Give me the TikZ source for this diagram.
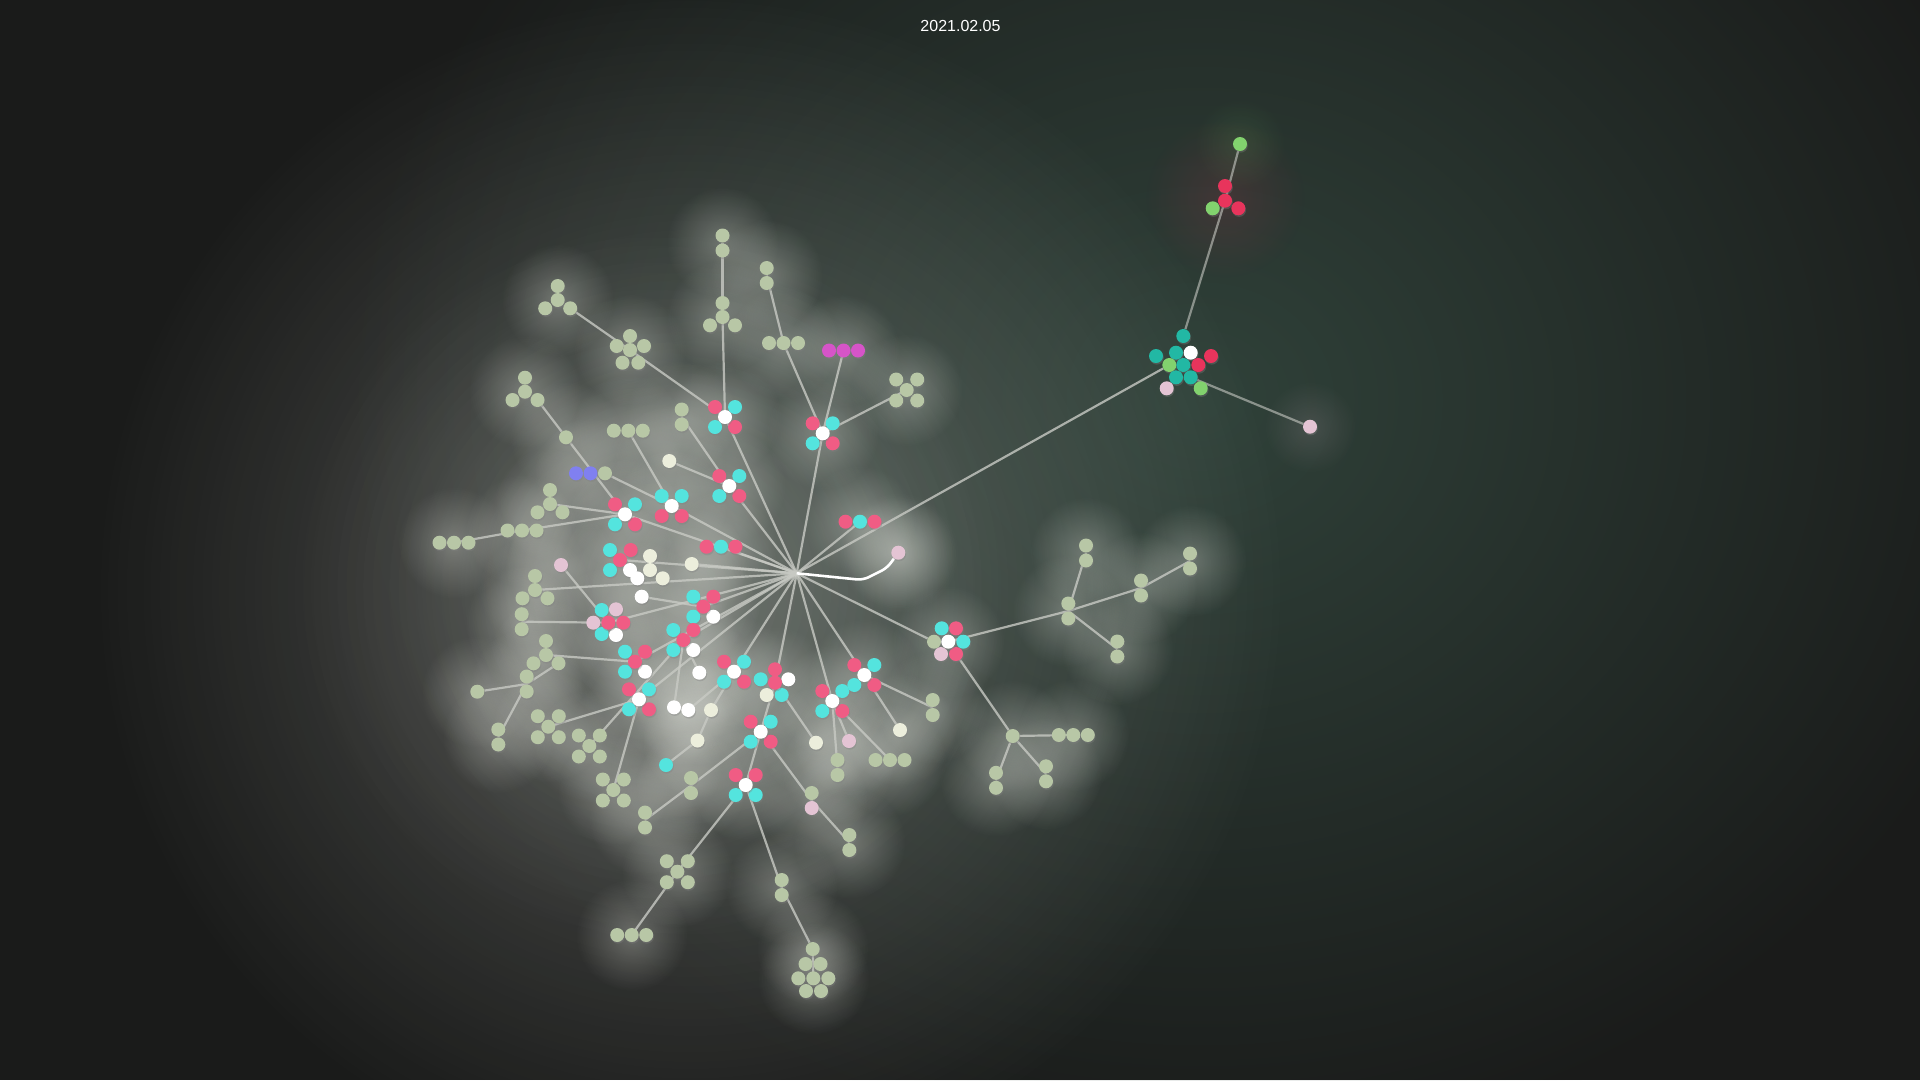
\documentclass[tikz,border=0pt]{standalone}
\usepackage{fontspec}
\setmainfont{Liberation Sans}
\usetikzlibrary{fadings,shadows}

\definecolor{bgc}{RGB}{26,27,26}
\definecolor{greenglow}{RGB}{48,66,58}
\definecolor{haloc}{RGB}{236,238,230}
\definecolor{linkc}{RGB}{200,202,196}
\definecolor{sagec}{RGB}{184,199,166}
\definecolor{cyanc}{RGB}{84,228,222}
\definecolor{pinkc}{RGB}{240,92,132}
\definecolor{lpinkc}{RGB}{228,196,212}
\definecolor{palec}{RGB}{236,238,220}
\definecolor{magc}{RGB}{214,84,200}
\definecolor{violc}{RGB}{128,128,240}
\definecolor{tealc}{RGB}{34,184,164}
\definecolor{redc}{RGB}{232,52,92}
\definecolor{greenc}{RGB}{130,210,110}

\tikzfading[name=glowfade, inner color=transparent!0, outer color=transparent!100]

\pgfdeclarelayer{backdrop}
\pgfdeclarelayer{glow}
\pgfdeclarelayer{edges}
\pgfsetlayers{backdrop,glow,edges,main}

\tikzset{
  ball/.style={circle, inner sep=0pt, minimum size=14pt, draw=none,
    drop shadow={shadow xshift=0.8pt, shadow yshift=-1.6pt, opacity=0.35}},
  bsage/.style={ball, fill=sagec},
  bcyan/.style={ball, fill=cyanc},
  bpink/.style={ball, fill=pinkc},
  blpink/.style={ball, fill=lpinkc},
  bpale/.style={ball, fill=palec},
  bwhite/.style={ball, fill=white},
  bmag/.style={ball, fill=magc},
  bviol/.style={ball, fill=violc},
  bteal/.style={ball, fill=tealc},
  bred/.style={ball, fill=redc},
  bgreen/.style={ball, fill=greenc},
  link/.style={draw=linkc, line width=2.2pt, draw opacity=0.8},
}

% halo behind a group
\newcommand{\ballhalo}[1]{%
  \begin{pgfonlayer}{glow}
    \fill[haloc, fill opacity=0.3, path fading=glowfade] (#1) circle (56);
  \end{pgfonlayer}}

\newcommand{\ballsingle}[4]{%
  \node[#4] (#1) at (#2,#3) {};
  \ballhalo{#1}}

\newcommand{\ballstack}[5]{%
  \coordinate (#1) at (#2,#3);
  \node[#4] (#1-1) at ([shift={(0,-7.5)}]#1) {};
  \node[#5] (#1-2) at ([shift={(0,7.5)}]#1) {};
  \ballhalo{#1}}

\newcommand{\ballrow}[6]{%
  \coordinate (#1) at (#2,#3);
  \node[#4] (#1-1) at ([shift={(-14.5,0)}]#1) {};
  \node[#5] (#1-2) at (#1) {};
  \node[#6] (#1-3) at ([shift={(14.5,0)}]#1) {};
  \ballhalo{#1}}

\newcommand{\balltrefoil}[4]{%
  \coordinate (#1) at (#2,#3);
  \node[#4] (#1-1) at ([shift={(0,-14)}]#1) {};
  \node[#4] (#1-2) at ([shift={(-12.5,8.3)}]#1) {};
  \node[#4] (#1-3) at ([shift={(12.5,8.3)}]#1) {};
  \node[#4] (#1-4) at (#1) {};
  \ballhalo{#1}}

\newcommand{\ballx}[4]{%
  \coordinate (#1) at (#2,#3);
  \node[#4] (#1-1) at ([shift={(-10.5,-10.5)}]#1) {};
  \node[#4] (#1-2) at ([shift={(10.5,-10.5)}]#1) {};
  \node[#4] (#1-3) at ([shift={(-10.5,10.5)}]#1) {};
  \node[#4] (#1-4) at ([shift={(10.5,10.5)}]#1) {};
  \node[#4] (#1-0) at (#1) {};
  \ballhalo{#1}}

\newcommand{\ballpenta}[4]{%
  \coordinate (#1) at (#2,#3);
  \node[#4] (#1-1) at ([shift={(0,-14)}]#1) {};
  \node[#4] (#1-2) at ([shift={(-13.3,-4)}]#1) {};
  \node[#4] (#1-3) at ([shift={(14,-4)}]#1) {};
  \node[#4] (#1-4) at ([shift={(-7.5,12.7)}]#1) {};
  \node[#4] (#1-5) at ([shift={(8.3,12.7)}]#1) {};
  \node[#4] (#1-0) at (#1) {};
  \ballhalo{#1}}

% name, x, y, centre, TL, TR, BL, BR
\newcommand{\ballflower}[8]{%
  \coordinate (#1) at (#2,#3);
  \node[#5] (#1-1) at ([shift={(-10,-10)}]#1) {};
  \node[#6] (#1-2) at ([shift={(10,-10)}]#1) {};
  \node[#7] (#1-3) at ([shift={(-10,10)}]#1) {};
  \node[#8] (#1-4) at ([shift={(10,10)}]#1) {};
  \node[#4] (#1-0) at (#1) {};
  \ballhalo{#1}}

\begin{document}
\begin{tikzpicture}[x=1pt, y=-1pt]

\useasboundingbox (0,0) rectangle (1920,1080);

% backdrop
\begin{pgfonlayer}{backdrop}
  \fill[bgc] (0,0) rectangle (1920,1080);
  \fill[greenglow, path fading=glowfade] (1200,400) ellipse (860 and 760);
  \fill[haloc, fill opacity=0.28, path fading=glowfade] (690,590) circle (600);
  \fill[haloc, fill opacity=0.16, path fading=glowfade] (650,585) circle (360);
\end{pgfonlayer}

\node[text=white, font=\fontsize{16}{19}\selectfont] (date) at (960.5,25.7) {2021.02.05};

\coordinate (hub) at (796.7,573.3);

% upper branches
\ballstack{sA}{722.5}{243}{bsage}{bsage}
\balltrefoil{tA}{722.5}{317}{bsage}
\balltrefoil{tB}{557.7}{300}{bsage}
\ballpenta{pA}{630}{350}{bsage}
\ballflower{fA}{725}{417}{bwhite}{bpink}{bcyan}{bcyan}{bpink}
\ballstack{sB}{766.7}{275.5}{bsage}{bsage}
\ballrow{rA}{783.5}{343}{bsage}{bsage}{bsage}
\ballrow{rM}{843.5}{350.5}{bmag}{bmag}{bmag}
\ballx{xA}{906.7}{390}{bsage}
\ballflower{fB}{822.7}{433.3}{bwhite}{bpink}{bcyan}{bcyan}{bpink}
\balltrefoil{tC}{525}{391.7}{bsage}
\ballsingle{nA}{566}{437.3}{bsage}
\ballstack{sC}{681.7}{417}{bsage}{bsage}
\ballrow{rB}{628.3}{430.7}{bsage}{bsage}{bsage}
\ballsingle{wA}{669.3}{461}{bpale}
\ballrow{rV}{590.5}{473.3}{bviol}{bviol}{bsage}
\balltrefoil{tD}{550}{504}{bsage}
\ballflower{fC}{729.3}{486}{bwhite}{bpink}{bcyan}{bcyan}{bpink}
\ballflower{fD}{671.7}{506}{bwhite}{bcyan}{bcyan}{bpink}{bpink}
\ballflower{fE}{625}{514.3}{bwhite}{bpink}{bcyan}{bcyan}{bpink}
\ballrow{rC}{860}{521.7}{bpink}{bcyan}{bpink}
\ballrow{rD}{721}{546.7}{bpink}{bcyan}{bpink}
\ballrow{rE}{522}{530.5}{bsage}{bsage}{bsage}
\ballrow{rF}{454}{542.7}{bsage}{bsage}{bsage}
\ballsingle{lA}{898.3}{552.7}{blpink}

% middle
\coordinate (gA) at (620,560);
\node[bcyan] (gA-1) at (610,550) {};
\node[bpink] (gA-2) at (630.7,550) {};
\node[bcyan] (gA-4) at (610,570) {};
\node[bpink] (gA-3) at (620,560) {};
\node[bpale] (gA-7) at (650,556) {};
\node[bpale] (gA-8) at (650,570) {};
\node[bpale] (gA-9) at (662.7,578.3) {};
\node[bwhite] (gA-5) at (630,570) {};
\node[bwhite] (gA-6) at (637.3,578.3) {};
\ballhalo{gA}
\ballsingle{wB}{691.7}{564}{bpale}
\ballsingle{lB}{561}{565}{blpink}
\balltrefoil{tE}{535}{590}{bsage}
\ballstack{sD}{521.7}{621.7}{bsage}{bsage}

\coordinate (hX) at (608.3,622.7);
\node[blpink] (hX-1) at (593.3,622.7) {};
\node[bcyan] (hX-2) at (601.7,610) {};
\node[blpink] (hX-3) at (616,609.3) {};
\node[bpink] (hX-4) at (623.3,622.7) {};
\node[bcyan] (hX-5) at (601.7,634) {};
\node[bwhite] (hX-6) at (616,635) {};
\node[bpink] (hX-0) at (hX) {};
\ballhalo{hX}

\ballsingle{wC}{641.7}{596.7}{bwhite}
\ballflower{cA}{703.3}{606.7}{bpink}{bcyan}{bpink}{bcyan}{bwhite}
\ballflower{cB}{683.3}{640}{bpink}{bcyan}{bpink}{bcyan}{bwhite}
\ballflower{cC}{635}{661.7}{bpink}{bcyan}{bpink}{bcyan}{bwhite}
\balltrefoil{tF}{546}{655}{bsage}
\ballstack{sE}{526.7}{684}{bsage}{bsage}
\ballsingle{nB}{477.3}{691.7}{bsage}
\ballstack{sF}{498.3}{737}{bsage}{bsage}
\ballflower{fF}{639}{699.3}{bwhite}{bpink}{bcyan}{bcyan}{bpink}
\ballsingle{wD}{699.3}{672.7}{bwhite}
\ballsingle{wE}{674}{707.3}{bwhite}
\ballsingle{wF}{688.3}{710}{bwhite}
\ballsingle{pA2}{711}{710}{bpale}
\ballflower{fG}{734}{671.7}{bwhite}{bpink}{bcyan}{bcyan}{bpink}

\coordinate (cD) at (775,682.7);
\node[bcyan] (cD-1) at (760.7,679.3) {};
\node[bpink] (cD-2) at (775,669.3) {};
\node[bwhite] (cD-3) at (788.3,679.3) {};
\node[bcyan] (cD-4) at (781.7,695) {};
\node[bpale] (cD-5) at (766.7,695) {};
\node[bpink] (cD-0) at (cD) {};
\ballhalo{cD}

\ballflower{fH}{832.3}{701}{bwhite}{bpink}{bcyan}{bcyan}{bpink}
\ballflower{fI}{864.3}{675}{bwhite}{bpink}{bcyan}{bcyan}{bpink}

% lower branches
\ballx{xB}{548.3}{726.7}{bsage}
\ballx{xC}{589.3}{746}{bsage}
\ballx{xD}{613.3}{790}{bsage}
\ballflower{fJ}{760.7}{731.7}{bwhite}{bpink}{bcyan}{bcyan}{bpink}
\ballflower{fK}{745.7}{785}{bwhite}{bpink}{bpink}{bcyan}{bcyan}
\ballsingle{cyA}{666}{765}{bcyan}
\ballsingle{pB}{697.5}{740.5}{bpale}
\ballstack{sG}{691}{785.5}{bsage}{bsage}
\ballstack{sH}{645}{820}{bsage}{bsage}
\ballsingle{pC}{816}{742.7}{bpale}
\ballsingle{lC}{849}{741}{blpink}
\ballstack{sI}{837.5}{767.5}{bsage}{bsage}
\ballrow{rG}{890}{760}{bsage}{bsage}{bsage}
\ballsingle{pD}{900}{730}{bpale}
\ballstack{sJ}{932.7}{707.5}{bsage}{bsage}
\ballstack{sK}{811.7}{800.5}{bsage}{blpink}
\ballstack{sL}{849.3}{842.5}{bsage}{bsage}
\ballx{xE}{677.3}{871.7}{bsage}
\ballrow{rH}{631.7}{935}{bsage}{bsage}{bsage}
\ballstack{sM}{781.7}{887.5}{bsage}{bsage}

\ballsingle{nT}{812.7}{949}{bsage}
\coordinate (hA) at (813.3,978.3);
\node[bsage] (hA-1) at (805.5,964) {};
\node[bsage] (hA-2) at (820.5,964) {};
\node[bsage] (hA-3) at (798.3,978.3) {};
\node[bsage] (hA-4) at (828.3,978.3) {};
\node[bsage] (hA-5) at (806,991) {};
\node[bsage] (hA-6) at (821,991) {};
\node[bsage] (hA-0) at (hA) {};
\ballhalo{hA}

% right tree
\coordinate (rtA) at (948.3,641.7);
\node[bcyan] (rtA-1) at (941.7,628.3) {};
\node[bpink] (rtA-2) at (956,628.3) {};
\node[bsage] (rtA-3) at (934,641.7) {};
\node[bcyan] (rtA-4) at (963.3,641.7) {};
\node[blpink] (rtA-5) at (941,654) {};
\node[bpink] (rtA-6) at (956,654) {};
\node[bwhite] (rtA-0) at (rtA) {};
\ballhalo{rtA}

\ballstack{sN}{1068.3}{611}{bsage}{bsage}
\ballstack{sO}{1086}{553}{bsage}{bsage}
\ballstack{sP}{1141}{588}{bsage}{bsage}
\ballstack{sQ}{1190}{561}{bsage}{bsage}
\ballstack{sR}{1117.3}{649}{bsage}{bsage}
\ballsingle{nC}{1012.7}{736}{bsage}
\ballrow{rI}{1073.3}{735}{bsage}{bsage}{bsage}
\ballstack{sS}{996}{780.3}{bsage}{bsage}
\ballstack{sT}{1046}{773.8}{bsage}{bsage}

% far cluster
\begin{pgfonlayer}{glow}
  \fill[redc, fill opacity=0.13, path fading=glowfade] (1225,198) circle (80);
  \fill[greenc, fill opacity=0.12, path fading=glowfade] (1240,144) circle (46);
  \fill[lpinkc, fill opacity=0.14, path fading=glowfade] (1310,427) circle (46);
  \fill[haloc, fill opacity=0.3, path fading=glowfade] (898.3,552.7) circle (60);
\end{pgfonlayer}
\coordinate (rcA) at (1183.3,365);
\node[bteal] (rcA-1) at (1183.3,336) {};
\node[bteal] (rcA-2) at (1156,356) {};
\node[bteal] (rcA-3) at (1176,352.7) {};
\node[bwhite] (rcA-4) at (1190.7,352.7) {};
\node[bred] (rcA-5) at (1211,356) {};
\node[bgreen] (rcA-6) at (1169.3,365) {};
\node[bteal] (rcA-7) at (1183.3,365) {};
\node[bred] (rcA-8) at (1198.3,365) {};
\node[bteal] (rcA-9) at (1176,377.3) {};
\node[bteal] (rcA-10) at (1190.7,377.3) {};
\node[blpink] (rcA-11) at (1166.7,388.3) {};
\node[bgreen] (rcA-12) at (1200.7,388.3) {};

\coordinate (rrA) at (1225,200.7);
\node[bred] (rrA-1) at (1225,186) {};
\node[bred] (rrA-2) at (1238.3,208.3) {};
\node[bgreen] (rrA-3) at (1212.7,208.3) {};
\node[bred] (rrA-0) at (rrA) {};
\node[bgreen] (gB) at (1240,144) {};
\node[blpink] (lD) at (1310,426.7) {};

\coordinate (k1) at (863,580);
\coordinate (k2) at (887,568);

% connectors
\begin{pgfonlayer}{edges}
\draw[link] (hub) -- (fA);
\draw[link] (hub) -- (fB);
\draw[link] (hub) -- (fC);
\draw[link] (hub) -- (fD);
\draw[link] (hub) -- (fE);
\draw[link] (hub) -- (rC);
\draw[link] (hub) -- (rD);
\draw[link] (hub) -- (gA);
\draw[link] (hub) -- (wB);
\draw[link] (hub) -- (tE);
\draw[link] (hub) -- (hX);
\draw[link] (hub) -- (cA);
\draw[link] (hub) -- (cB);
\draw[link] (hub) -- (cC);
\draw[link] (hub) -- (fF);
\draw[link] (hub) -- (fG);
\draw[link] (hub) -- (cD);
\draw[link] (hub) -- (fH);
\draw[link] (hub) -- (fI);
\draw[link] (hub) -- (rtA-3);
\draw[link] (hub) -- (rcA-6);
\draw[link, draw=white, draw opacity=1, line width=2.6pt, rounded corners=6pt] (hub) -- (k1) -- (k2) -- (lA);

\draw[link] (fA) -- (pA);
\draw[link] (pA) -- (tB-3);
\draw[link] (fA) -- (tA);
\draw[link] (tA) -- (sA);
\draw[link] (fB) -- (rA);
\draw[link] (rA) -- (sB);
\draw[link] (fB) -- (rM);
\draw[link] (fB) -- (xA);
\draw[link] (fC) -- (sC);
\draw[link] (fC) -- (wA);
\draw[link] (fD) -- (rB);
\draw[link] (fD) -- (rV-3);
\draw[link] (fE) -- (nA);
\draw[link] (nA) -- (tC-3);
\draw[link] (fE) -- (rE);
\draw[link] (rE) -- (rF);
\draw[link] (fE) -- (tD);

\draw[link] (lB) -- (hX);
\draw[link] (sD) -- (hX);
\draw[link] (wC) -- (cA);
\draw[link] (tF) -- (cC);
\draw[link] (sE) -- (tF-3);
\draw[link] (sE) -- (nB);
\draw[link] (sE) -- (sF);
\draw[link] (xB) -- (fF);
\draw[link] (xC) -- (cB);
\draw[link] (xD) -- (fF);
\draw[link] (wD) -- (cB);
\draw[link] (wE) -- (cB);
\draw[link] (wF) -- (fG);
\draw[link] (cyA) -- (pB);
\draw[link] (pB) -- (pA2);
\draw[link] (pA2) -- (fG);
\draw[link] (cD) -- (fJ);
\draw[link] (cD) -- (pC);
\draw[link] (fJ) -- (fK);
\draw[link] (sH) -- (sG);
\draw[link] (sG) -- (fJ);
\draw[link] (fK) -- (xE);
\draw[link] (xE) -- (rH);
\draw[link] (fK) -- (sM);
\draw[link] (sM) -- (nT);
\draw[link] (nT) -- (hA);
\draw[link] (fJ) -- (sK);
\draw[link] (sK) -- (sL);
\draw[link] (fH) -- (lC);
\draw[link] (fH) -- (sI);
\draw[link] (fH) -- (rG);
\draw[link] (fI) -- (pD);
\draw[link] (fI) -- (sJ);

\draw[link] (rtA) -- (sN);
\draw[link] (sN) -- (sO);
\draw[link] (sN) -- (sP);
\draw[link] (sP) -- (sQ);
\draw[link] (sN) -- (sR);
\draw[link] (rtA-6) -- (nC);
\draw[link] (nC) -- (rI);
\draw[link] (nC) -- (sS);
\draw[link] (nC) -- (sT);

\draw[link, draw opacity=0.6] (rcA-1) -- (rrA);
\draw[link, draw opacity=0.6] (rrA) -- (gB);
\draw[link, draw opacity=0.6] (rcA-10) -- (lD);
\end{pgfonlayer}

\end{tikzpicture}
\end{document}
